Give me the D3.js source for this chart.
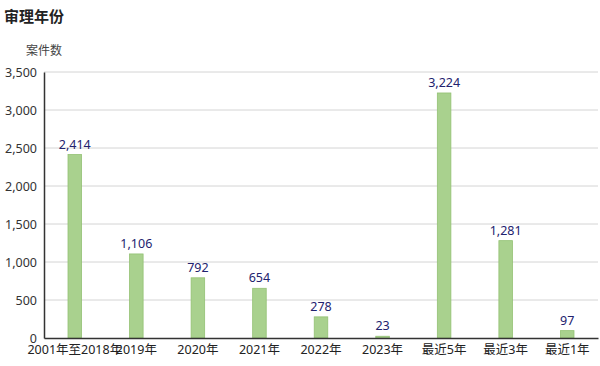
<!DOCTYPE html>
<html><head><meta charset="utf-8">
<script src="https://cdn.jsdelivr.net/npm/d3@7"></script>
<style>
html,body{margin:0;padding:0;background:#fff;}
svg{display:block;font-family:"Noto Sans","Noto Sans CJK SC",sans-serif;}
</style></head>
<body>
<svg id="chart" width="600" height="366"></svg>
<script>
const categories = ["2001年至2018年","2019年","2020年","2021年","2022年","2023年","最近5年","最近3年","最近1年"];
const values = [2414,1106,792,654,278,23,3224,1281,97];
const yTicks = [0,500,1000,1500,2000,2500,3000,3500];
const title = "审理年份";
const yLabel = "案件数";

const svg = d3.select("#chart");
const m = {left:44, right:2, top:72, bottom:28};
const W = 600, H = 366;
const x = d3.scaleBand().domain(categories).range([m.left, W - m.right]).paddingInner(0.78).paddingOuter(0.39);
const y = d3.scaleLinear().domain([0,3500]).range([H - m.bottom, m.top]);
const fmt = d3.format(",");

svg.append("text").attr("x",4).attr("y",22).attr("font-size",15).attr("font-weight","bold")
  .attr("fill","#222").attr("font-family","'Noto Sans CJK SC',sans-serif").text(title);
svg.append("text").attr("x",26).attr("y",55).attr("font-size",12).attr("fill","#444")
  .attr("font-family","'Noto Sans CJK SC',sans-serif").text(yLabel);

// gridlines
svg.append("g").selectAll("line").data(yTicks.filter(d=>d>0)).join("line")
  .attr("x1",m.left).attr("x2",W-m.right)
  .attr("y1",d=>y(d)).attr("y2",d=>y(d))
  .attr("stroke","#d4d4d4").attr("stroke-width",1);

// y axis
const ya = svg.append("g").attr("transform",`translate(${m.left},0)`)
  .call(d3.axisLeft(y).tickValues(yTicks).tickFormat(fmt).tickSize(0).tickPadding(7));
ya.select(".domain").attr("stroke","#333").attr("stroke-width",1.5);
ya.selectAll("text").attr("font-size",12.5).attr("fill","#333").attr("font-family","'Noto Sans','Noto Sans CJK SC',sans-serif");

// bars
svg.append("g").selectAll("rect").data(values).join("rect")
  .attr("x",(d,i)=>x(categories[i]))
  .attr("width",x.bandwidth())
  .attr("y",d=>y(d))
  .attr("height",d=>y(0)-y(d))
  .attr("fill","#a9d18e").attr("stroke","#93c173").attr("stroke-width",0.8);

// value labels
svg.append("g").selectAll("text").data(values).join("text")
  .attr("x",(d,i)=>x(categories[i])+x.bandwidth()/2)
  .attr("y",d=>y(d)-6)
  .attr("text-anchor","middle").attr("font-size",12.5).attr("fill","#22226e")
  .text(d=>fmt(d));

// x axis
const xa = svg.append("g").attr("transform",`translate(0,${y(0)})`)
  .call(d3.axisBottom(x).tickSize(0).tickPadding(7));
xa.select(".domain").attr("stroke","#333").attr("stroke-width",1.5);
xa.selectAll("text").attr("font-size",12.5).attr("fill","#222").attr("font-family","'Noto Sans','Noto Sans CJK SC',sans-serif");
</script>
</body></html>
